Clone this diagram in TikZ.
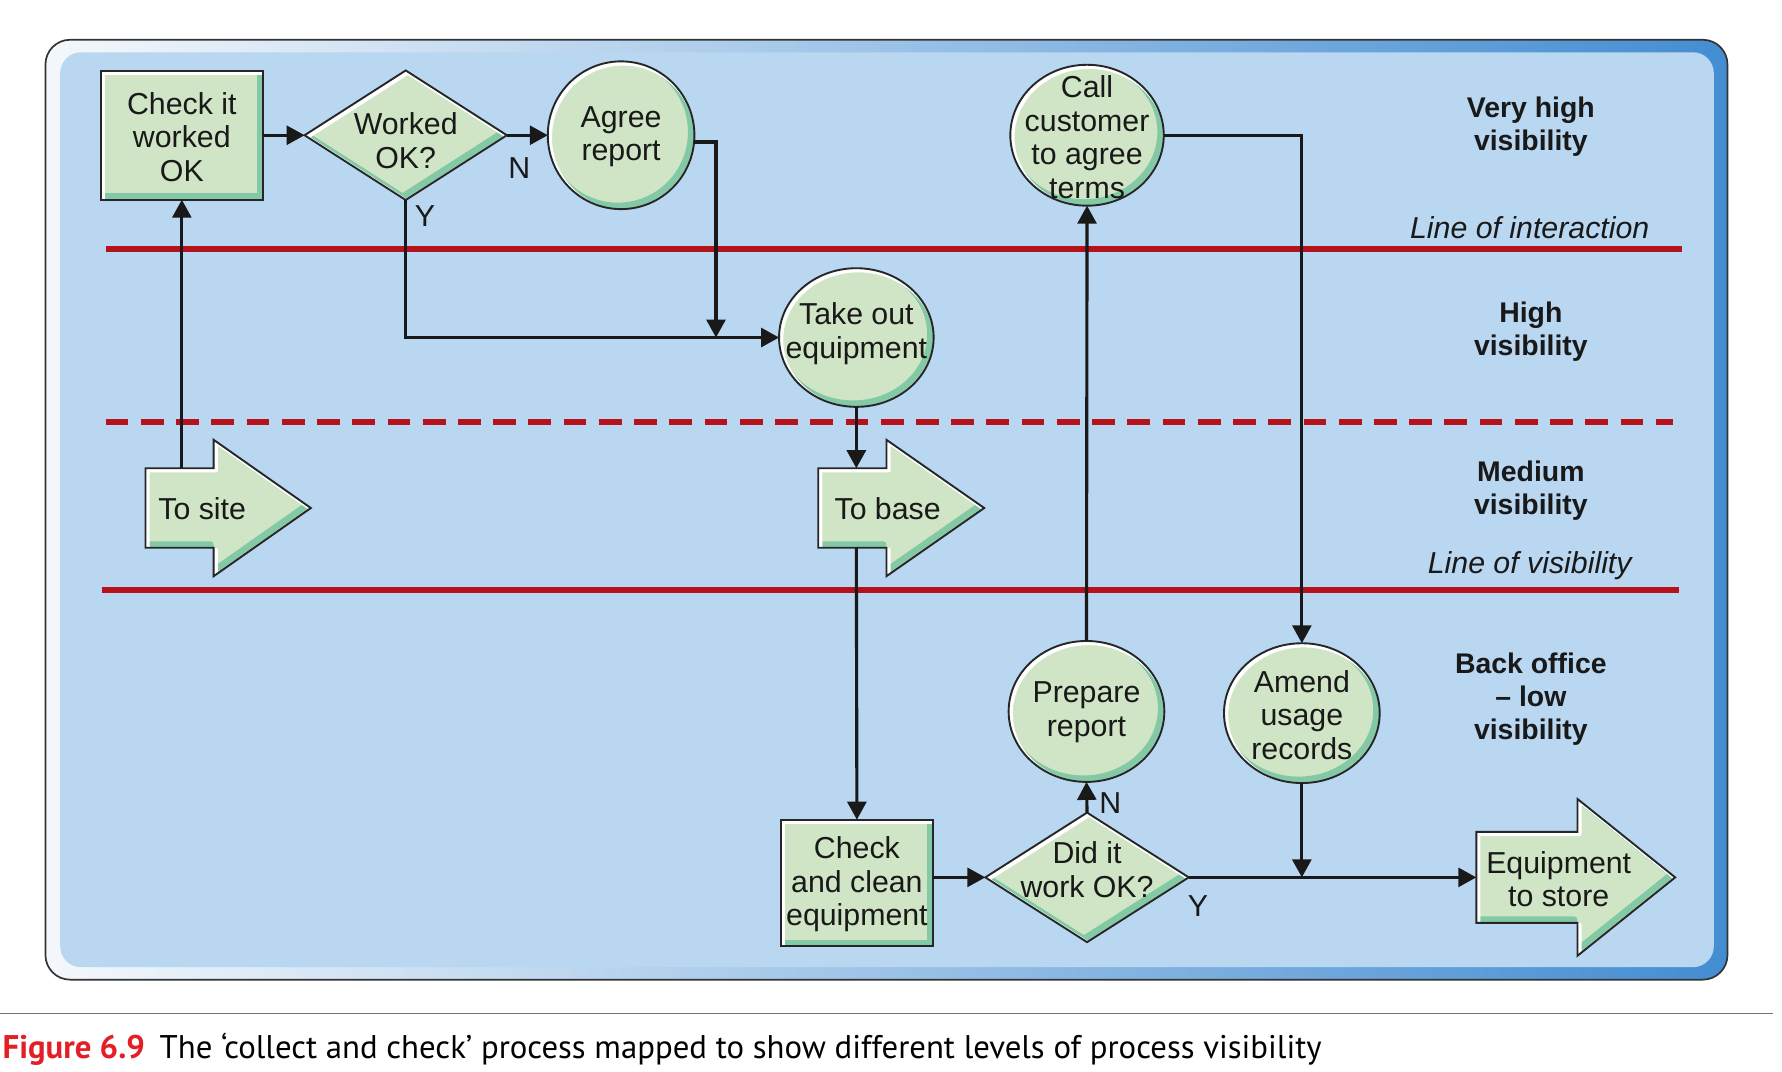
\documentclass[tikz,border=0pt]{standalone}
\usepackage{fontspec}
\setmainfont{Liberation Sans}
\newfontfamily\capfont{PT Sans}
\usetikzlibrary{arrows.meta,shapes.geometric}
\definecolor{panel}{HTML}{B9D7F1}
\definecolor{gfill}{HTML}{CFE5C5}
\definecolor{gedge}{HTML}{84C9A6}
\definecolor{redline}{HTML}{B5121B}
\definecolor{frameblue}{HTML}{448DD2}
\definecolor{framelight}{HTML}{F4F8FC}
\definecolor{capred}{HTML}{E31E24}

\newcommand\gshape[1]{%
  \begin{scope}
    \clip #1;
    \fill[gfill] #1;
    \begin{scope}[transform canvas={shift={(-1.7pt,1.7pt)}}]
      \draw[gedge, line width=3.4pt, line join=round] #1;
    \end{scope}
    \begin{scope}[transform canvas={shift={(1.1pt,-1.1pt)}}]
      \draw[white, line width=2.2pt, line join=round] #1;
    \end{scope}
  \end{scope}
  \draw[line width=1pt, black!85] #1;}

\begin{document}
\begin{tikzpicture}[x=0.6pt, y=-0.6pt,
  shp/.style={inner sep=0pt, outer sep=0pt, draw=none},
  txt/.style={font=\fontsize{16pt}{17.7pt}\selectfont, align=center, inner sep=0pt, text=black!90},
  lvl/.style={font=\fontsize{15pt}{17.4pt}\selectfont\bfseries, align=center, inner sep=0pt, text=black!90},
  lin/.style={font=\fontsize{16pt}{18pt}\selectfont\itshape, inner sep=0pt, text=black!90},
  yn/.style={font=\fontsize{16pt}{18pt}\selectfont, inner sep=0pt, text=black!90},
  conn/.style={line width=1.65pt, draw=black!90, -{Triangle[length=9.5pt,width=10pt]}},
  redl/.style={draw=redline, line width=3.2pt},
]
\useasboundingbox (0,0) rectangle (1568,943);

% frame and panel
\shade[left color=framelight, right color=frameblue, rounded corners=13pt] (40,35) rectangle (1520,862);
\draw[black!80, line width=0.9pt, rounded corners=13pt] (40,35) rectangle (1520,862);
\fill[panel, rounded corners=11pt] (53,46) rectangle (1508,851);

% visibility lines
\draw[redl] (93,219) -- (1480,219);
\draw[redl, dash pattern=on 12pt off 6.6pt] (93,371) -- (1472,371);
\draw[redl] (90,519.5) -- (1477,519.5);

% shape nodes
\node[shp, rectangle, minimum width=85.8pt, minimum height=68.1pt] (chk) at (160,119) {};
\node[shp, diamond, minimum width=106.8pt, minimum height=68.4pt] (wok) at (357,119) {};
\node[shp, ellipse, minimum width=77.4pt, minimum height=78pt] (agree) at (546.5,119) {};
\node[shp, ellipse, minimum width=81pt, minimum height=74.4pt] (call) at (956.5,119) {};
\node[shp, ellipse, minimum width=81.6pt, minimum height=73.2pt] (take) at (753.5,297) {};
\node[shp, ellipse, minimum width=82.2pt, minimum height=74.4pt] (prep) at (956,626) {};
\node[shp, ellipse, minimum width=82.2pt, minimum height=73.8pt] (amend) at (1145.5,627.5) {};
\node[shp, rectangle, minimum width=80.4pt, minimum height=66.9pt] (cac) at (754,777) {};
\node[shp, diamond, minimum width=107.4pt, minimum height=68.4pt] (did) at (956.5,772) {};

\coordinate (sitetop) at (160,412);
\coordinate (basetop) at (753.5,412);
\coordinate (basebot) at (753.5,482);
\coordinate (storein) at (1299,772);
\coordinate (aj) at (630,297);

% shaded shapes
\gshape{(chk.south west) rectangle (chk.north east)}
\gshape{(wok.north) -- (wok.east) -- (wok.south) -- (wok.west) -- cycle}
\gshape{(agree.center) ellipse [x radius=38.7pt, y radius=39pt]}
\gshape{(call.center) ellipse [x radius=40.5pt, y radius=37.2pt]}
\gshape{(take.center) ellipse [x radius=40.8pt, y radius=36.6pt]}
\gshape{(prep.center) ellipse [x radius=41.1pt, y radius=37.2pt]}
\gshape{(amend.center) ellipse [x radius=41.1pt, y radius=36.9pt]}
\gshape{(cac.south west) rectangle (cac.north east)}
\gshape{(did.north) -- (did.east) -- (did.south) -- (did.west) -- cycle}
\gshape{(128,412) -- (188,412) -- (188,387) -- (273.5,447) -- (188,507) -- (188,482) -- (128,482) -- cycle}
\gshape{(720,412) -- (780,412) -- (780,387) -- (866,447) -- (780,507) -- (780,482) -- (720,482) -- cycle}
\gshape{(1299,732) -- (1388,732) -- (1388,703) -- (1474,772) -- (1388,841) -- (1388,812) -- (1299,812) -- cycle}

% connectors
\draw[conn] (chk.east) -- (wok.west);
\draw[conn] (wok.east) -- (agree.west);
\draw[conn] (wok.south) |- (take.west);
\draw[conn] ([yshift=-3.6pt]agree.east) -| (aj);
\draw[conn] (sitetop) -- (chk.south);
\draw[conn] (take.south) -- (basetop);
\draw[conn] (basebot) -- (cac.north);
\draw[conn] (cac.east |- did.west) -- (did.west);
\draw[conn] (did.north) -- (prep.south);
\draw[conn] (prep.north) -- (call.south);
\draw[conn] (call.east) -| (amend.north);
\draw[conn] (did.east) -- (storein);
\draw[conn] (amend.south) -- (amend.south |- did.east);

% texts
\node[txt] (chkt) at (160,120.5) {Check it\\worked\\OK};
\node[txt] (wokt) at (357,124) {Worked\\OK?};
\node[txt] (agreet) at (546.5,120.5) {Agree\\report};
\node[txt] (callt) at (956.5,120.5) {Call\\customer\\to agree\\terms};
\node[txt] (taket) at (753.5,293.5) {Take out\\equipment};
\node[txt, anchor=west] (sitet) at (139,448) {To site};
\node[txt, anchor=west] (baset) at (734,448) {To base};
\node[txt] (prept) at (956,626.5) {Prepare\\report};
\node[txt] (amendt) at (1145.5,629) {Amend\\usage\\records};
\node[txt] (cact) at (754,778) {Check\\and clean\\equipment};
\node[txt] (didt) at (956.5,765) {Did it\\work OK?};
\node[txt] (storet) at (1371.5,773.5) {Equipment\\to store};

\node[yn] (n1) at (457,148) {N};
\node[yn] (y1) at (374,190) {Y};
\node[yn] (n2) at (977,707) {N};
\node[yn] (y2) at (1054,797) {Y};

% level labels
\node[lvl] (l1) at (1347,111.5) {Very high\\visibility};
\node[lin] (li1) at (1346,200) {Line of interaction};
\node[lvl] (l2) at (1347,291.5) {High\\visibility};
\node[lvl] (l3) at (1347,431.5) {Medium\\visibility};
\node[lin] (li2) at (1346,498) {Line of visibility};
\node[lvl] (l4) at (1347,615) {Back office\\– low\\visibility};

% caption
\draw[black!55, line width=0.6pt] (0,892) -- (1560,892);
\node[anchor=base west, inner sep=0pt, font=\capfont\fontsize{17.3pt}{20pt}\selectfont] (cap) at (2,931)
  {{\color{capred}\bfseries Figure 6.9}\hspace{0.45em}The ‘collect and check’ process mapped to show different levels of process visibility};
\end{tikzpicture}
\end{document}
